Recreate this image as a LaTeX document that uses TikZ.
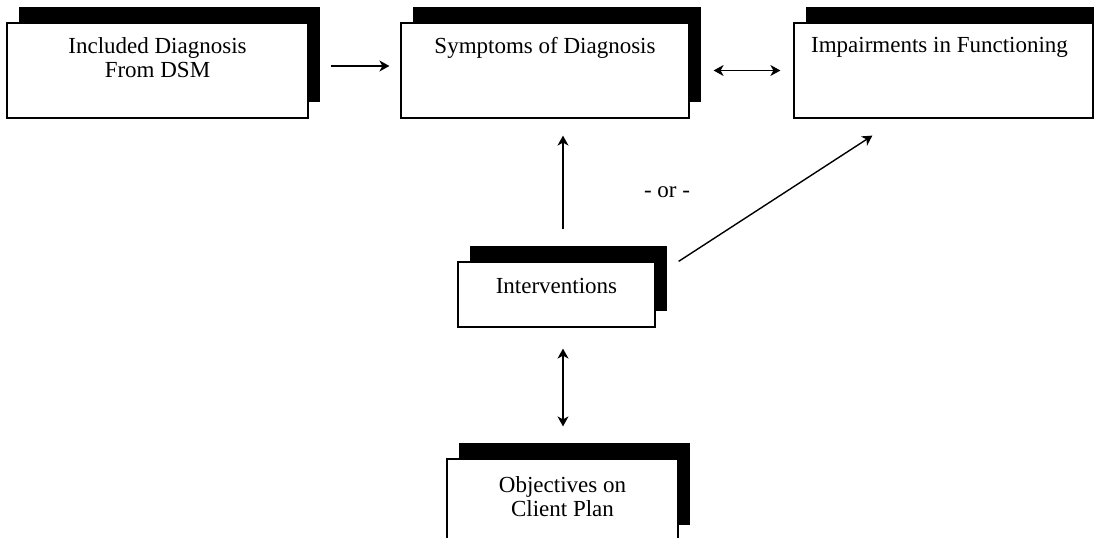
\documentclass[tikz,border=0pt]{standalone}
\usepackage{fontspec}
\setmainfont{Liberation Serif}
\usetikzlibrary{shadows, arrows.meta}

\begin{document}
\begin{tikzpicture}[x=0.5pt, y=-0.5pt, line width=0.7pt, >={Stealth[length=5pt, width=5.5pt, inset=1.5pt]}, font=\fontsize{11.5}{12}\selectfont,
	box/.style = {draw, line width=0.6pt, fill=white, general shadow={fill=black, shadow xshift=6pt, shadow yshift=8pt}},
	txt/.style = {anchor=north, align=center, inner xsep=0pt, inner ysep=7pt}]
	\useasboundingbox (0,0) rectangle (1094,537);
	\node[box, minimum width=150.5pt, minimum height=47.5pt, label={[txt]north:Included Diagnosis\\From DSM}] (diag) at (157.5,70.5) {};
	\node[box, minimum width=144pt, minimum height=47.5pt, label={[txt]north:Symptoms of Diagnosis}] (symp) at (545,70.5) {};
	\node[box, minimum width=149.5pt, minimum height=47.5pt, label={[txt, xshift=-2pt]north:Impairments in Functioning}] (impair) at (943.5,70.5) {};
	\node[box, minimum width=98.5pt, minimum height=32.5pt, label={[txt, inner ysep=8pt]north:Interventions}] (interv) at (556.5,294.5) {};
	\node[box, minimum width=115.5pt, minimum height=41pt, label={[txt, inner ysep=8.5pt]north:Objectives on\\Client Plan}] (obj) at (562.5,500) {};
	\node (or) at (667,192) {- or -};
	\coordinate (up) at ([xshift=3.25pt]interv.north);
	\coordinate (dn) at ([xshift=3.25pt]interv.south);

	\draw[->, shorten <=11pt, shorten >=5.5pt] ([yshift=2.25pt]diag.east) -- ([yshift=2.25pt]symp.west);
	\draw[<->, shorten <=12pt, shorten >=6.5pt] (symp) -- (impair);
	\draw[->, shorten <=16pt, shorten >=8.5pt] (up) -- (up |- symp.south);
	\draw[->] ([xshift=11.5pt]interv.north east) -- ([xshift=39.5pt, yshift=-8.5pt]impair.south west);
	\draw[<->, shorten <=10.5pt, shorten >=16pt] (dn) -- (dn |- obj.north);
\end{tikzpicture}
\end{document}
